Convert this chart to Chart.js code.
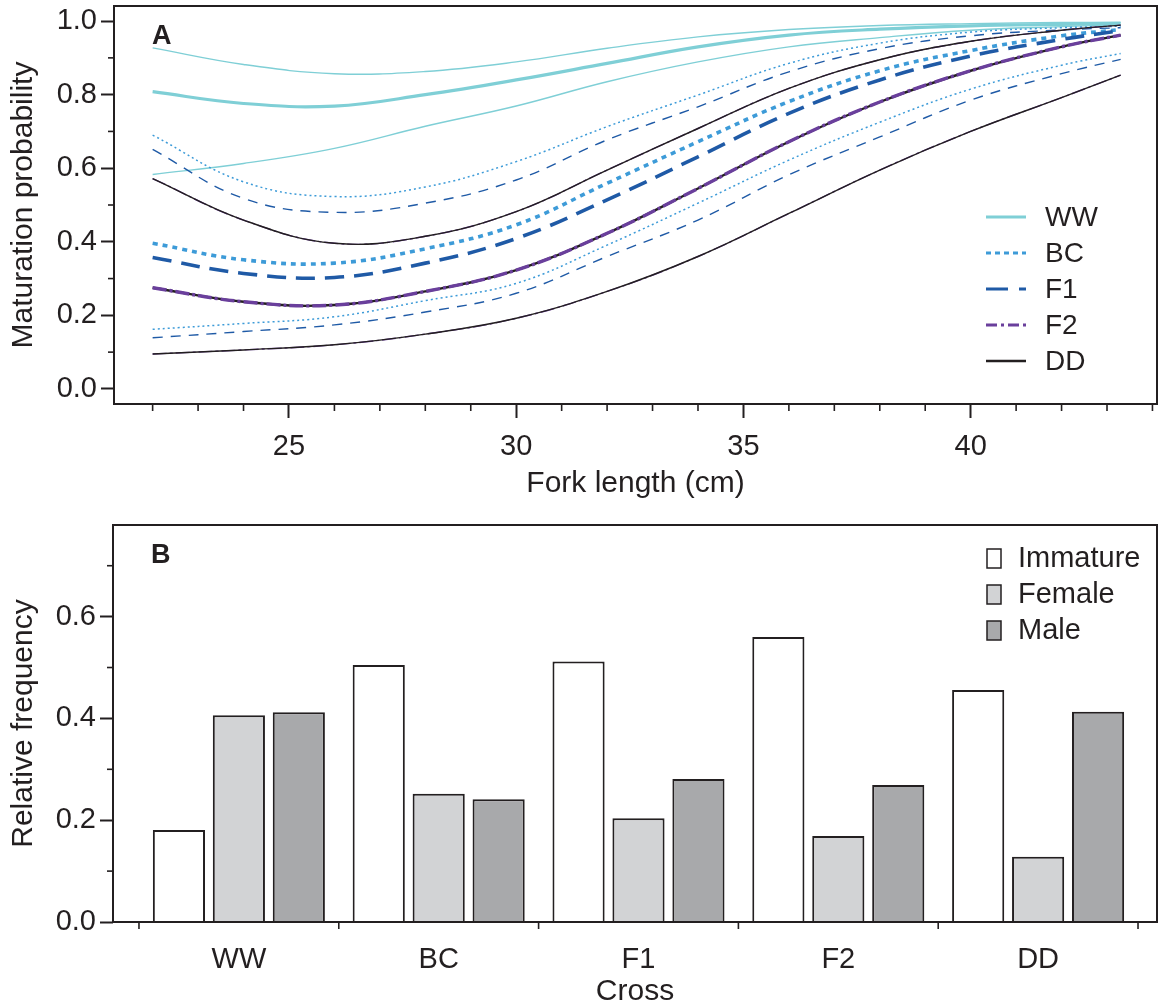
<!DOCTYPE html>
<html>
<head>
<meta charset="utf-8">
<script src="https://cdn.jsdelivr.net/npm/chart.js@4.4.1/dist/chart.umd.min.js"></script>
<style>
  html, body { margin: 0; padding: 0; background: #fff; overflow: hidden; }
  canvas { position: absolute; left: 0; }
  #maturation_chart { top: 0; }
  #frequency_chart { top: 505px; }
</style>
</head>
<body>
<canvas id="maturation_chart" width="1161" height="505"></canvas>
<canvas id="frequency_chart" width="1161" height="510"></canvas>
<script>
// ---- panel A: maturation probability vs fork length ----
const forkLength = [22, 24, 26, 28, 30, 32, 34, 36, 38, 40, 42, 43.3];

const wwMean  = [0.808, 0.776, 0.769, 0.800, 0.840, 0.885, 0.930, 0.962, 0.978, 0.987, 0.991, 0.993];
const wwUpper = [0.927, 0.882, 0.857, 0.863, 0.889, 0.926, 0.957, 0.977, 0.988, 0.993, 0.996, 0.997];
const wwLower = [0.583, 0.613, 0.654, 0.714, 0.769, 0.835, 0.889, 0.930, 0.955, 0.975, 0.985, 0.990];

const bcMean  = [0.396, 0.351, 0.342, 0.381, 0.446, 0.559, 0.672, 0.781, 0.865, 0.920, 0.960, 0.977];
const bcUpper = [0.690, 0.563, 0.523, 0.549, 0.618, 0.713, 0.799, 0.885, 0.940, 0.970, 0.982, 0.986];
const bcLower = [0.162, 0.178, 0.196, 0.240, 0.287, 0.391, 0.505, 0.622, 0.725, 0.815, 0.880, 0.912];

const f1Mean  = [0.357, 0.314, 0.303, 0.342, 0.409, 0.514, 0.631, 0.749, 0.840, 0.905, 0.950, 0.974];
const f1Upper = [0.651, 0.518, 0.480, 0.505, 0.568, 0.677, 0.767, 0.862, 0.925, 0.960, 0.976, 0.982];
const f1Lower = [0.139, 0.156, 0.174, 0.209, 0.260, 0.360, 0.459, 0.582, 0.685, 0.785, 0.857, 0.896];

const f2Mean  = [0.275, 0.237, 0.228, 0.265, 0.323, 0.423, 0.545, 0.672, 0.780, 0.865, 0.930, 0.962];
const f2Upper = [0.572, 0.459, 0.396, 0.415, 0.482, 0.595, 0.708, 0.817, 0.895, 0.945, 0.975, 0.989];
const f2Lower = [0.095, 0.106, 0.120, 0.149, 0.192, 0.265, 0.360, 0.477, 0.595, 0.700, 0.792, 0.853];

const ddMean  = [0.275, 0.237, 0.228, 0.265, 0.323, 0.423, 0.545, 0.672, 0.780, 0.865, 0.930, 0.962];
const ddUpper = [0.572, 0.459, 0.396, 0.415, 0.482, 0.595, 0.708, 0.817, 0.895, 0.945, 0.975, 0.989];
const ddLower = [0.095, 0.106, 0.120, 0.149, 0.192, 0.265, 0.360, 0.477, 0.595, 0.700, 0.792, 0.853];

const lengthMajorTicks = [25, 30, 35, 40];
const lengthMinorTicks = [22, 23, 24, 26, 27, 28, 29, 31, 32, 33, 34, 36, 37, 38, 39, 41, 42, 43, 44];
const probMajorTicks = [0, 0.2, 0.4, 0.6, 0.8, 1.0];
const probMinorTicks = [0.1, 0.3, 0.5, 0.7, 0.9];

// ---- panel B: relative frequency per cross ----
const crosses = ["WW", "BC", "F1", "F2", "DD"];
const immature = [0.181, 0.505, 0.512, 0.560, 0.456];
const female   = [0.406, 0.252, 0.204, 0.169, 0.128];
const male     = [0.412, 0.241, 0.281, 0.269, 0.413];
const crossBounds = [-0.5, 0.5, 1.5, 2.5, 3.5, 4.5];
const freqMajorTicks = [0, 0.2, 0.4, 0.6];
const freqMinorTicks = [0.1, 0.3, 0.5, 0.7];

const INK = '#231f20';
const FONT = '"Liberation Sans", Arial, Helvetica, sans-serif';
Chart.defaults.font.family = FONT;
Chart.defaults.font.size = 29;
Chart.defaults.color = INK;

const groups = [
  {name: "WW", mean: wwMean, upper: wwUpper, lower: wwLower, color: '#7fcfd6',
   meanWidth: 3.2, ciWidth: 1.4, meanDash: [], ciDash: [], legendDash: [], legendWidth: 3, meanOrder: 9, ciOrder: 10},
  {name: "BC", mean: bcMean, upper: bcUpper, lower: bcLower, color: '#3d9bd8',
   meanWidth: 3.6, ciWidth: 1.5, meanDash: [5, 5], ciDash: [2, 3], legendDash: [5, 4], legendWidth: 3, meanOrder: 7, ciOrder: 8},
  {name: "F1", mean: f1Mean, upper: f1Upper, lower: f1Lower, color: '#1f5aa6',
   meanWidth: 3.6, ciWidth: 1.4, meanDash: [19, 10], ciDash: [10, 8], legendDash: [22, 11], legendWidth: 3, meanOrder: 5, ciOrder: 6},
  {name: "F2", mean: f2Mean, upper: f2Upper, lower: f2Lower, color: '#6a3f9c',
   meanWidth: 3.4, ciWidth: 1.4, meanDash: [14, 3, 3, 3], ciDash: [14, 3, 3, 3], legendDash: [11, 4, 3, 4], legendWidth: 3, meanOrder: 0, ciOrder: 4},
  {name: "DD", mean: ddMean, upper: ddUpper, lower: ddLower, color: INK,
   meanWidth: 2.4, ciWidth: 1.4, meanDash: [], ciDash: [], legendDash: [], legendWidth: 2.5, meanOrder: 2, ciOrder: 1}
];

function points(values) {
  return forkLength.map((x, i) => ({x: x, y: values[i]}));
}

let lineDatasets = [];
groups.forEach(g => {
  [["lower", g.lower], ["upper", g.upper]].forEach(([kind, vals]) => {
    lineDatasets.push({
      label: g.name + " " + kind, data: points(vals), borderColor: g.color,
      borderWidth: g.ciWidth, borderDash: g.ciDash, order: g.ciOrder
    });
  });
  lineDatasets.push({
    label: g.name, data: points(g.mean), borderColor: g.color,
    borderWidth: g.meanWidth, borderDash: g.meanDash, order: g.meanOrder
  });
});

// box round the plot, minor ticks, panel letter
function framePlugin(letter, minorSets) {
  return {
    id: 'frame' + letter,
    afterDraw(chart) {
      const {ctx, chartArea} = chart;
      ctx.save();
      ctx.strokeStyle = INK;
      ctx.lineWidth = 2;
      ctx.strokeRect(chartArea.left, chartArea.top, chartArea.right - chartArea.left, chartArea.bottom - chartArea.top);
      ctx.lineWidth = 1.6;
      minorSets.forEach(m => {
        const scale = chart.scales[m.axis];
        m.values.forEach(v => {
          const p = scale.getPixelForValue(v);
          ctx.beginPath();
          if (m.axis === 'x') {
            ctx.moveTo(p, chartArea.bottom);
            ctx.lineTo(p, chartArea.bottom + m.len);
          } else {
            ctx.moveTo(chartArea.left, p);
            ctx.lineTo(chartArea.left - m.len, p);
          }
          ctx.stroke();
        });
      });
      ctx.fillStyle = INK;
      ctx.font = 'bold 27px ' + FONT;
      ctx.textBaseline = 'alphabetic';
      ctx.fillText(letter, chartArea.left + 38, chartArea.top + 38);
      ctx.restore();
    }
  };
}

const lineLegend = {
  id: 'lineLegend',
  afterDraw(chart) {
    const {ctx, chartArea} = chart;
    ctx.save();
    groups.forEach((g, i) => {
      const y = chartArea.top + 211 + i * 36;
      const x0 = chartArea.right - 171;
      ctx.strokeStyle = g.color;
      ctx.lineWidth = g.legendWidth;
      ctx.setLineDash(g.legendDash);
      ctx.beginPath();
      ctx.moveTo(x0, y);
      ctx.lineTo(x0 + 40, y);
      ctx.stroke();
      ctx.setLineDash([]);
      ctx.fillStyle = INK;
      ctx.font = '28px ' + FONT;
      ctx.textBaseline = 'middle';
      ctx.fillText(g.name, x0 + 59, y + 1);
    });
    ctx.restore();
  }
};

const tickStyle = (len) => ({
  display: true, drawOnChartArea: false, drawTicks: true,
  tickLength: len, tickWidth: 2, tickColor: INK
});

const titleFont = { size: 30 };

new Chart(document.getElementById("maturation_chart").getContext("2d"), {
  type: "line",
  data: { datasets: lineDatasets },
  options: {
    responsive: false,
    animation: false,
    layout: { padding: { top: 6, right: 4, left: 0, bottom: 0 } },
    elements: {
      point: { radius: 0 },
      line: { tension: 0.4, fill: false, borderCapStyle: 'butt' }
    },
    plugins: { legend: { display: false }, tooltip: { enabled: false } },
    scales: {
      x: {
        type: 'linear', min: 21.15, max: 44.1,
        afterBuildTicks: s => { s.ticks = lengthMajorTicks.map(v => ({value: v})); },
        afterFit: s => { s.height = 101; s.paddingLeft = 0; s.paddingRight = 0; },
        ticks: { autoSkip: false, maxRotation: 0, padding: 12, callback: v => String(v) },
        grid: tickStyle(14),
        border: { display: false },
        title: { display: true, text: "Fork length (cm)", font: titleFont, padding: { top: 0, bottom: 3 } }
      },
      y: {
        min: -0.041, max: 1.041,
        afterBuildTicks: s => { s.ticks = probMajorTicks.map(v => ({value: v})); },
        afterFit: s => { s.width = 114; s.paddingTop = 0; s.paddingBottom = 0; },
        ticks: { padding: 4, callback: v => v.toFixed(1) },
        grid: tickStyle(13),
        border: { display: false },
        title: { display: true, text: "Maturation probability", font: titleFont, padding: { top: 6, bottom: 0 } }
      }
    }
  },
  plugins: [framePlugin("A", [{axis: 'x', values: lengthMinorTicks, len: 7}, {axis: 'y', values: probMinorTicks, len: 6}]), lineLegend]
});

// ---- panel B ----
const barSeries = [
  {label: "Immature", values: immature, fill: '#ffffff'},
  {label: "Female", values: female, fill: '#d2d3d5'},
  {label: "Male", values: male, fill: '#a8a9ab'}
];

const boxLegend = {
  id: 'boxLegend',
  afterDraw(chart) {
    const {ctx, chartArea} = chart;
    ctx.save();
    barSeries.forEach((s, i) => {
      const y = chartArea.top + 33 + i * 36;
      const x0 = chartArea.right - 170;
      ctx.fillStyle = s.fill;
      ctx.fillRect(x0, y - 9, 14, 19);
      ctx.strokeStyle = INK;
      ctx.lineWidth = 1.5;
      ctx.strokeRect(x0, y - 9, 14, 19);
      ctx.fillStyle = INK;
      ctx.font = '29px ' + FONT;
      ctx.textBaseline = 'middle';
      ctx.fillText(s.label, x0 + 31, y + 1);
    });
    ctx.restore();
  }
};

new Chart(document.getElementById("frequency_chart").getContext("2d"), {
  type: "bar",
  data: {
    datasets: barSeries.map(s => ({
      label: s.label,
      data: s.values.map((v, i) => ({x: i, y: v})),
      backgroundColor: s.fill,
      borderColor: INK,
      borderWidth: 2,
      categoryPercentage: 0.9,
      barPercentage: 0.87
    }))
  },
  options: {
    responsive: false,
    animation: false,
    layout: { padding: { top: 20, right: 4, left: 0, bottom: 0 } },
    plugins: { legend: { display: false }, tooltip: { enabled: false } },
    scales: {
      x: {
        type: 'linear', min: -0.63, max: 4.595, offset: false,
        afterBuildTicks: s => { s.ticks = crosses.map((c, i) => ({value: i})); },
        afterFit: s => { s.height = 93; s.paddingLeft = 0; s.paddingRight = 0; },
        ticks: { autoSkip: false, maxRotation: 0, padding: 14, callback: v => crosses[v] },
        grid: { display: true, offset: false, drawOnChartArea: false, tickLength: 7, tickColor: 'rgba(0,0,0,0)' },
        border: { display: false },
        title: { display: true, text: "Cross", font: titleFont, padding: { top: 0, bottom: 5 } }
      },
      y: {
        min: 0, max: 0.78,
        afterBuildTicks: s => { s.ticks = freqMajorTicks.map(v => ({value: v})); },
        afterFit: s => { s.width = 113; s.paddingTop = 0; s.paddingBottom = 0; },
        ticks: { padding: 4, callback: v => v.toFixed(1) },
        grid: tickStyle(13),
        border: { display: false },
        title: { display: true, text: "Relative frequency", font: titleFont, padding: { top: 6, bottom: 0 } }
      }
    }
  },
  plugins: [framePlugin("B", [{axis: 'x', values: crossBounds, len: 7}, {axis: 'y', values: freqMinorTicks, len: 6}]), boxLegend]
});
</script>
</body>
</html>
